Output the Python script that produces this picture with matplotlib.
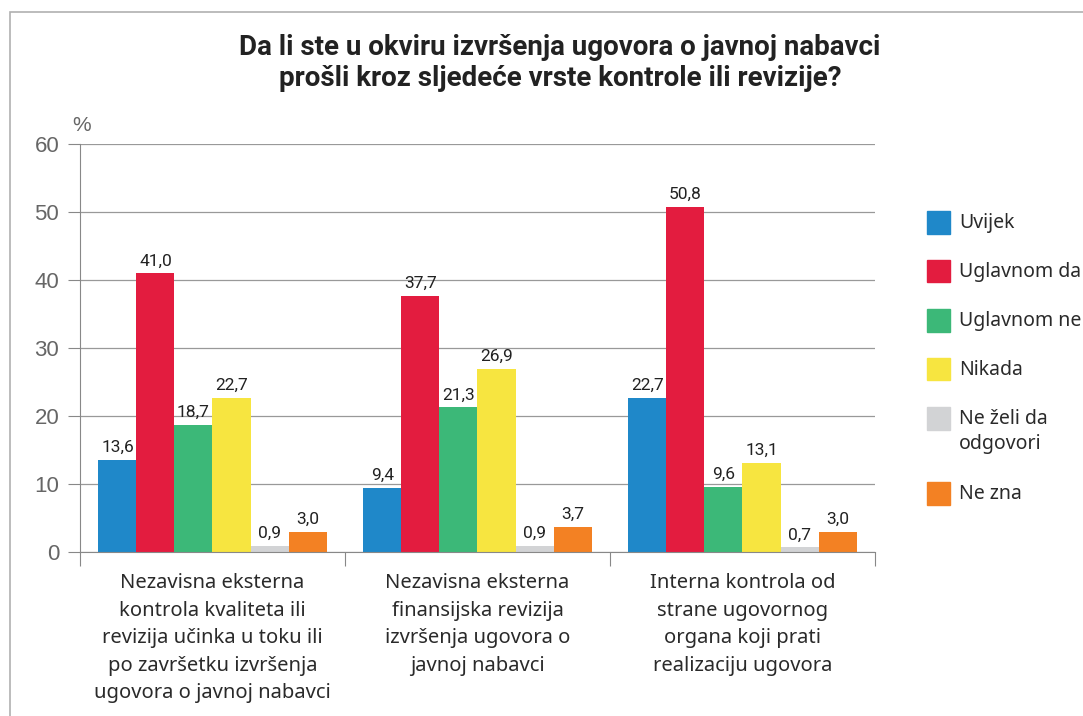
import numpy as np
import matplotlib.pyplot as plt
from matplotlib.patches import Rectangle

categories = [
    "Nezavisna eksterna\nkontrola kvaliteta ili\nrevizija učinka u toku ili\npo završetku izvršenja\nugovora o javnoj nabavci",
    "Nezavisna eksterna\nfinansijska revizija\nizvršenja ugovora o\njavnoj nabavci",
    "Interna kontrola od\nstrane ugovornog\norgana koji prati\nrealizaciju ugovora",
]
series_names = ["Uvijek", "Uglavnom da", "Uglavnom ne", "Nikada", "Ne želi da\nodgovori", "Ne zna"]
uvijek = [13.6, 9.4, 22.7]
uglavnom_da = [41.0, 37.7, 50.8]
uglavnom_ne = [18.7, 21.3, 9.6]
nikada = [22.7, 26.9, 13.1]
ne_zeli = [0.9, 0.9, 0.7]
ne_zna = [3.0, 3.7, 3.0]
series = [uvijek, uglavnom_da, uglavnom_ne, nikada, ne_zeli, ne_zna]
colors = ["#1f88c9", "#e31c3f", "#3cb878", "#f7e540", "#d2d3d5", "#f38123"]

W, H = 1083, 716
fig = plt.figure(figsize=(W / 100, H / 100), dpi=100)
ax = fig.add_axes([80 / W, 1 - 552 / H, 795 / W, 408 / H])

# frame around the chart
fig.add_artist(Rectangle((10 / W, -0.01), 1.1, 1 - 12 / H + 0.01, transform=fig.transFigure,
                         fill=False, edgecolor="#b0b0b0", lw=1.2))

x = np.arange(len(categories))
w = 0.1434
for i, (vals, c) in enumerate(zip(series, colors)):
    pos = x + (i - 2.5) * w
    ax.bar(pos, vals, width=w, color=c, zorder=3)
    for p, v in zip(pos, vals):
        ax.text(p, v + 0.7, f"{v:.1f}".replace(".", ","), ha="center", va="bottom",
                fontsize=12.5, color="#222222", family="Roboto")

ax.set_xlim(-0.5, 2.5)
ax.set_ylim(0, 60)
ax.set_yticks(range(0, 61, 10))
ax.yaxis.grid(True, color="#999999", lw=0.9, zorder=0)
ax.tick_params(axis="y", length=9, color="#888888", labelsize=16, labelcolor="#666666", pad=6)
for lab in ax.get_yticklabels():
    lab.set_family("Liberation Sans")
ax.set_xticks([-0.5, 0.5, 1.5, 2.5])
ax.set_xticklabels([])
ax.tick_params(axis="x", length=10, color="#888888", direction="out")
for s in ["top", "right"]:
    ax.spines[s].set_visible(False)
ax.spines["left"].set_color("#888888")
ax.spines["bottom"].set_color("#888888")
ax.spines["bottom"].set_zorder(4)

for xi, cat in zip(x, categories):
    ax.text(xi, -3.1, cat, ha="center", va="top", fontsize=14.5, color="#2a2a2a",
            family="Noto Sans", linespacing=1.5)

ax.text(-0.495, 61.3, "%", ha="center", va="bottom", fontsize=15, color="#666666",
        family="Liberation Sans")

fig.text(0.517, 1 - 63 / H, "Da li ste u okviru izvršenja ugovora o javnoj nabavci\nprošli kroz sljedeće vrste kontrole ili revizije?",
         ha="center", va="center", fontsize=20, fontweight="bold", color="#222222",
         family="Roboto", linespacing=1.2)

# legend drawn by hand so the two-line entry lines up with its first line
y_pix = 222
for name, c in zip(series_names, colors):
    fig.add_artist(Rectangle((927 / W, 1 - (y_pix + 11.5) / H), 23 / W, 23 / H,
                             transform=fig.transFigure, color=c))
    fig.text(959 / W, 1 - (y_pix - 9) / H, name, ha="left", va="top", fontsize=14,
             color="#2a2a2a", family="Noto Sans", linespacing=1.3)
    y_pix += 49 + 26 * name.count("\n")

fig.savefig("out.png", dpi=100)
